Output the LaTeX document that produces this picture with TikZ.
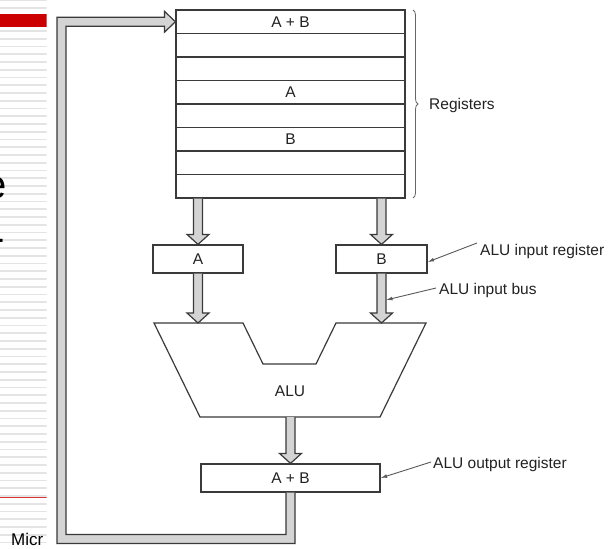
\documentclass[tikz,border=0pt]{standalone}
\usepackage{fontspec}
\setmainfont{Liberation Sans}
\usetikzlibrary{decorations.pathreplacing,arrows.meta,calc}

\definecolor{pipefill}{HTML}{D4D4D4}
\definecolor{linec}{HTML}{3A3A3A}
\definecolor{txt}{HTML}{222222}
\definecolor{slidered}{HTML}{CC0000}
\definecolor{thinred}{HTML}{DD3333}
\definecolor{stripe}{HTML}{E4E4E4}

\newcommand\pipedown[2]{%
  \filldraw[pipe] let \p1=(#1), \p2=(#2) in
    (\x2-4.5pt,\y1) -- (\x2-4.5pt,\y2+10pt) -- (\x2-11pt,\y2+10pt) -- (\x2,\y2)
    -- (\x2+11pt,\y2+10pt) -- (\x2+4.5pt,\y2+10pt) -- (\x2+4.5pt,\y1);}

\begin{document}
\begin{tikzpicture}[x=1pt,y=-1pt,
  txtfont/.style={font=\fontsize{15.5}{18}\selectfont},
  reg/.style={draw=linec,line width=1.2pt,minimum width=229pt,minimum height=23.5pt,
    inner sep=0pt,text=txt,txtfont,fill=white},
  box/.style={draw=linec,line width=1.2pt,minimum height=28pt,inner sep=0pt,
    text=txt,txtfont,fill=white},
  pipe/.style={draw=linec,line width=1.2pt,fill=pipefill,line join=miter},
  lbl/.style={text=txt,txtfont,anchor=base west,inner sep=0pt},
  lead/.style={draw=black!65,line width=0.9pt,-{Latex[length=6.5pt,width=3.8pt]}}
]
\useasboundingbox (0,0) rectangle (612,548);
\fill[white] (0,0) rectangle (612,548);

% slide fragment on the left
\begin{scope}
  \clip (0,0) rectangle (46.5,548);
  \foreach \k in {0,...,71} \draw[stripe,line width=1.6pt] (0,{7.75*\k}) -- (46.5,{7.75*\k});
  \fill[slidered] (0,14) rectangle (46.5,27);
  \node[anchor=base east,inner sep=0pt,font=\fontsize{40}{40}\selectfont] (se) at (6.5,198) {e};
  \node[anchor=base east,inner sep=0pt,font=\fontsize{40}{40}\selectfont] (sd) at (5.5,251) {-};
  \draw[thinred,line width=0.9pt] (0,497) -- (46.5,497);
  \node[anchor=base west,inner sep=0pt,font=\fontsize{17}{20}\selectfont] (micr) at (11,545) {Micr};
\end{scope}
\fill[white] (46.5,0) rectangle (612,548);

% registers
\foreach \i/\t in {1/{A + B},2/{},3/{},4/A,5/{},6/B,7/{},8/{}}
  \node[reg] (r\i) at (290.5,{10+23.5*(\i-0.5)}) {\t};

\draw[decorate,decoration={brace,amplitude=5pt},black!60,line width=0.8pt] (413,10) -- (413,198);
\node[lbl] (lregs) at (429,110) {Registers};

% ALU input registers
\node[box,minimum width=90pt] (a) at (198,259) {A};
\node[box,minimum width=91pt] (b) at (381.5,259) {B};

\pipedown{r8.south -| a.north}{a.north}
\pipedown{r8.south -| b.north}{b.north}

% ALU
\filldraw[draw=linec,line width=1.2pt,fill=white,line join=miter]
  (154,323) -- (243,323) -- (263,364) -- (316,364) -- (336,323) -- (426,323)
  -- (380,417) -- (200,417) -- cycle;
\coordinate (aluL) at (198,323);
\coordinate (aluR) at (381.5,323);
\coordinate (aluB) at (290.5,417);
\node[text=txt,txtfont] (alu) at (290,391) {ALU};

\pipedown{a.south}{aluL}
\pipedown{b.south}{aluR}

% output register
\node[box,minimum width=179pt] (out) at (290.5,478) {A + B};
\pipedown{aluB}{out.north}

% feedback bus
\coordinate (fbc) at (61.5,539);
\filldraw[pipe] let \p1=(out.south), \p2=(r1.west), \p3=(fbc) in
  (\x1+4.5pt,\y1) -- (\x1+4.5pt,\y3-4.5pt) -- (\x3-4.5pt,\y3-4.5pt)
  -- (\x3-4.5pt,\y2+4.5pt) -- (\x2-11pt,\y2+4.5pt) -- (\x2-11pt,\y2+10.5pt)
  -- (\x2,\y2) -- (\x2-11pt,\y2-10.5pt) -- (\x2-11pt,\y2-4.5pt)
  -- (\x3+4.5pt,\y2-4.5pt) -- (\x3+4.5pt,\y3+4.5pt) -- (\x1-4.5pt,\y3+4.5pt)
  -- (\x1-4.5pt,\y1);

% labels
\node[lbl] (lir) at (480,255) {ALU input register};
\node[lbl] (lbus) at (439,294) {ALU input bus};
\node[lbl] (lout) at (433,468) {ALU output register};

\coordinate (irS) at (477,243);
\coordinate (busS) at (436,288);
\coordinate (busT) at (386,300);
\coordinate (outS) at (431,462);

\draw[lead] (irS) -- ([yshift=-3pt]b.east);
\draw[lead] (busS) -- (busT);
\draw[lead] (outS) -- (out.east);
\end{tikzpicture}
\end{document}
